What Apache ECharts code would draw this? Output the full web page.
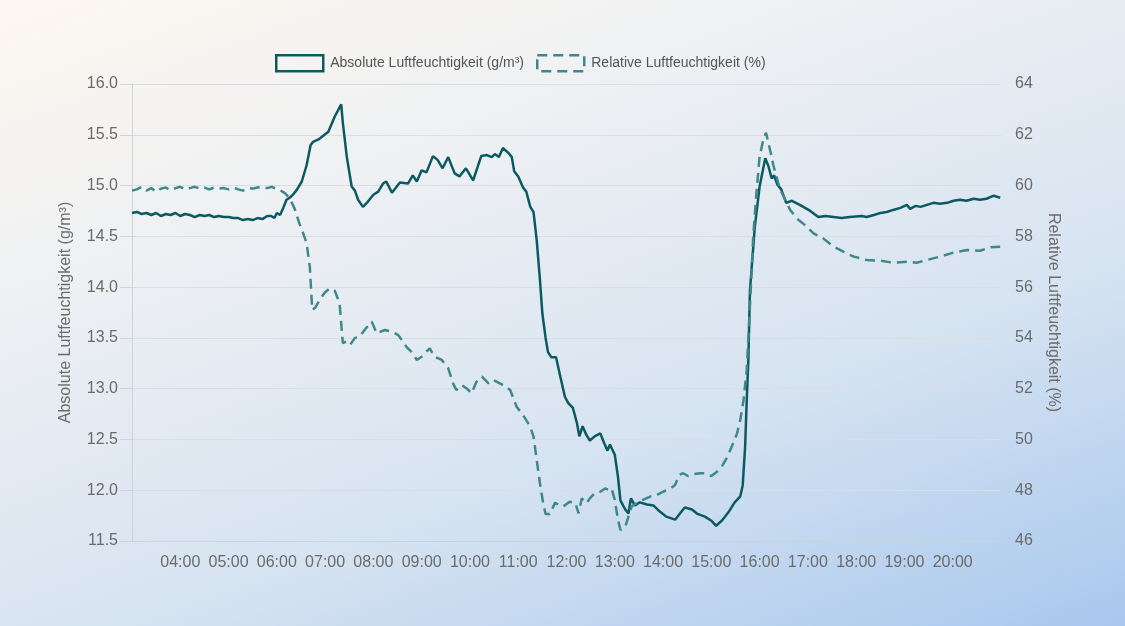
<!DOCTYPE html>
<html><head><meta charset="utf-8">
<script src="https://cdn.jsdelivr.net/npm/echarts/dist/echarts.min.js"></script>
<style>
html,body{margin:0;padding:0;width:1125px;height:626px;overflow:hidden;
background:linear-gradient(160deg,#fdf8f0 0%,#eef0f3 30%,#d6e3f1 65%,#a9c8ee 100%);}
#c{width:1125px;height:626px;}
</style>
</head><body><div id="c"></div>
<script>
const absTimes = ['03:00','03:06','03:12','03:18','03:24','03:30','03:36','03:42','03:48','03:54','04:00','04:06','04:12','04:18','04:24','04:30','04:36','04:42','04:48','04:54','05:00','05:06','05:12','05:18','05:24','05:30','05:36','05:42','05:48','05:53','05:57','06:00','06:04','06:08','06:12','06:16','06:20','06:25','06:31','06:37','06:42','06:45','06:53','07:04','07:12','07:18','07:20','07:22','07:27','07:33','07:37','07:41','07:47','07:53','08:00','08:06','08:12','08:16','08:23','08:33','08:43','08:49','08:54','09:00','09:06','09:14','09:20','09:26','09:33','09:41','09:47','09:55','10:04','10:14','10:21','10:27','10:31','10:36','10:41','10:48','10:52','10:55','11:00','11:06','11:10','11:15','11:19','11:23','11:27','11:30','11:34','11:37','11:41','11:47','11:52','11:58','12:02','12:08','12:13','12:16','12:20','12:25','12:29','12:35','12:42','12:47','12:51','12:54','13:00','13:04','13:07','13:13','13:17','13:20','13:25','13:31','13:40','13:48','13:56','14:04','14:15','14:21','14:27','14:36','14:42','14:52','15:00','15:06','15:13','15:21','15:29','15:36','15:39','15:42','15:44','15:46','15:48','15:54','16:00','16:07','16:11','16:15','16:18','16:22','16:27','16:33','16:40','16:50','17:03','17:13','17:22','17:32','17:42','17:52','18:07','18:13','18:22','18:30','18:38','18:46','18:55','19:03','19:07','19:14','19:20','19:28','19:36','19:44','19:53','20:01','20:09','20:17','20:26','20:34','20:42','20:51','20:59'];
const absValues = [14.73,14.74,14.72,14.73,14.71,14.73,14.70,14.72,14.71,14.73,14.70,14.72,14.71,14.69,14.71,14.70,14.71,14.69,14.70,14.69,14.69,14.68,14.68,14.66,14.67,14.66,14.68,14.67,14.70,14.70,14.68,14.73,14.71,14.78,14.86,14.88,14.91,14.96,15.04,15.20,15.40,15.43,15.46,15.53,15.68,15.77,15.80,15.62,15.28,14.99,14.95,14.86,14.79,14.84,14.91,14.94,15.02,15.04,14.93,15.03,15.02,15.10,15.04,15.15,15.13,15.29,15.25,15.17,15.28,15.12,15.09,15.17,15.05,15.29,15.30,15.28,15.31,15.28,15.37,15.32,15.28,15.14,15.09,14.98,14.94,14.79,14.74,14.46,14.07,13.74,13.50,13.36,13.31,13.31,13.13,12.92,12.86,12.81,12.66,12.53,12.63,12.54,12.49,12.53,12.56,12.46,12.39,12.45,12.35,12.13,11.90,11.81,11.77,11.92,11.85,11.88,11.86,11.85,11.79,11.74,11.71,11.77,11.83,11.81,11.77,11.74,11.70,11.65,11.70,11.78,11.88,11.94,12.05,12.43,12.89,13.28,13.97,14.59,14.99,15.27,15.19,15.07,15.10,15.01,14.96,14.83,14.85,14.81,14.75,14.69,14.70,14.69,14.68,14.69,14.70,14.69,14.71,14.73,14.74,14.76,14.78,14.81,14.77,14.80,14.79,14.81,14.83,14.82,14.83,14.85,14.86,14.85,14.87,14.86,14.87,14.90,14.88];

const relTimes = ['03:00','03:06','03:12','03:18','03:24','03:30','03:36','03:42','03:48','03:54','04:00','04:06','04:12','04:18','04:24','04:30','04:36','04:42','04:48','04:54','05:00','05:06','05:12','05:18','05:24','05:30','05:36','05:42','05:48','05:54','06:00','06:04','06:10','06:16','06:22','06:28','06:33','06:37','06:41','06:44','06:48','06:53','07:00','07:06','07:12','07:18','07:22','07:26','07:31','07:37','07:43','07:49','07:58','08:04','08:14','08:23','08:31','08:41','08:47','08:54','09:00','09:10','09:16','09:25','09:33','09:39','09:43','09:50','09:56','10:02','10:08','10:15','10:23','10:29','10:39','10:50','10:58','11:06','11:15','11:19','11:23','11:27','11:31','11:34','11:39','11:46','11:52','11:56','12:04','12:11','12:15','12:19','12:25','12:29','12:35','12:42','12:48','12:53','12:56','13:00','13:04','13:07','13:13','13:17','13:21','13:27','13:35','13:44','13:52','14:00','14:09','14:15','14:20','14:25','14:31','14:38','14:46','14:52','15:00','15:07','15:13','15:19','15:25','15:32','15:36','15:40','15:44','15:49','15:52','15:56','16:00','16:05','16:08','16:11','16:14','16:17','16:21','16:25','16:32','16:38','16:46','16:56','17:07','17:19','17:32','17:44','17:57','18:13','18:30','18:46','19:03','19:15','19:28','19:44','20:01','20:18','20:34','20:47','20:59'];
const relValues = [59.80,59.85,59.95,59.80,59.90,59.75,59.88,59.92,59.82,59.90,59.95,59.85,59.90,59.95,59.88,59.92,59.85,59.92,59.88,59.90,59.85,59.92,59.85,59.80,59.90,59.88,59.92,59.95,59.90,59.95,59.85,59.82,59.70,59.50,59.10,58.51,58.10,57.73,56.80,55.10,55.20,55.49,55.80,55.95,55.86,55.36,53.79,53.85,53.72,54.00,54.05,54.31,54.64,54.18,54.31,54.25,54.11,53.65,53.46,53.13,53.26,53.59,53.26,53.13,52.80,52.21,51.95,52.14,52.01,51.82,52.27,52.47,52.21,52.34,52.18,51.95,51.29,50.96,50.50,50.11,49.19,48.27,47.49,47.06,47.06,47.51,47.38,47.36,47.55,47.49,47.09,47.68,47.49,47.68,47.88,47.94,48.07,48.01,48.07,47.62,46.83,46.43,46.56,46.96,47.36,47.49,47.62,47.75,47.81,47.94,48.07,48.21,48.60,48.67,48.56,48.64,48.67,48.67,48.56,48.73,48.93,49.26,49.69,50.24,50.77,51.55,52.74,55.89,57.99,59.69,61.14,61.86,62.08,61.66,61.27,60.81,60.35,59.89,59.43,59.04,58.71,58.45,58.12,57.92,57.59,57.40,57.20,57.07,57.04,56.96,57.00,56.96,57.07,57.20,57.36,57.46,57.43,57.57,57.59];

const hourLabels = ['04:00','05:00','06:00','07:00','08:00','09:00','10:00','11:00','12:00','13:00','14:00','15:00','16:00','17:00','18:00','19:00','20:00'];

const seriesNames = ['Absolute Luftfeuchtigkeit (g/m³)','Relative Luftfeuchtigkeit (%)'];

function toMin(t){const p=t.split(':');return (+p[0])*60+(+p[1]);}
const absData = absTimes.map((t,i)=>[toMin(t),absValues[i]]);
const relData = relTimes.map((t,i)=>[toMin(t),relValues[i]]);

const solidColor = '#0b5a61';
const dashColor = '#3f878c';
const txt = '#6b6b6b';
const FONT = 'Liberation Sans, Arial, sans-serif';

const chart = echarts.init(document.getElementById('c'), null, {renderer:'canvas'});
chart.setOption({
  backgroundColor:'transparent',
  animation:false,
  textStyle:{fontFamily:FONT},
  legend:{
    left:270, top:49, itemWidth:47, itemHeight:16, itemGap:12,
    textStyle:{fontSize:14,color:'#555',fontFamily:FONT,padding:[0,0,0,2]},
    data:[
      {name:seriesNames[0], icon:'rect', itemStyle:{color:'rgba(0,0,0,0)',borderColor:solidColor,borderWidth:2.5,borderType:'solid'}},
      {name:seriesNames[1], icon:'rect', itemStyle:{color:'rgba(0,0,0,0)',borderColor:dashColor,borderWidth:2.5,borderType:[10,6]}}
    ]
  },
  grid:{left:132, right:124, top:84, bottom:85, containLabel:false},
  xAxis:{
    type:'value', min:180, max:1260, interval:60,
    axisLine:{show:true,lineStyle:{color:'#c9d3de',width:1}},
    axisTick:{show:false},
    splitLine:{show:false},
    axisLabel:{
      fontSize:16, color:txt, margin:14, fontFamily:FONT,
      formatter:function(v){const idx=v/60-4; return (idx>=0 && idx<hourLabels.length)?hourLabels[idx]:'';}
    }
  },
  yAxis:[
    {
      type:'value', min:11.5, max:16, interval:0.5, position:'left',
      name:seriesNames[0], nameLocation:'middle', nameGap:58,
      nameTextStyle:{fontSize:16,color:txt,fontFamily:FONT},
      axisLine:{show:true,lineStyle:{color:'#cfd4da'}},
      axisTick:{show:true,length:12,lineStyle:{color:'#cfd4da'}},
      splitLine:{show:true,lineStyle:{color:'#d9dee4',width:1}},
      axisLabel:{fontSize:16,color:txt,margin:14,fontFamily:FONT,formatter:v=>v.toFixed(1)}
    },
    {
      type:'value', min:46, max:64, interval:2, position:'right',
      name:seriesNames[1], nameLocation:'middle', nameGap:44, nameRotate:-90,
      nameTextStyle:{fontSize:16,color:txt,fontFamily:FONT},
      axisLine:{show:false}, axisTick:{show:false}, splitLine:{show:false},
      axisLabel:{fontSize:16,color:txt,margin:14,fontFamily:FONT}
    }
  ],
  series:[
    {name:seriesNames[0], type:'line', yAxisIndex:0, data:absData, showSymbol:false, symbol:'none',
     smooth:false, lineStyle:{color:solidColor,width:2.5}, itemStyle:{color:solidColor}},
    {name:seriesNames[1], type:'line', yAxisIndex:1, data:relData, showSymbol:false, symbol:'none',
     smooth:false, lineStyle:{color:dashColor,width:2.5,type:[10,6]}, itemStyle:{color:dashColor}}
  ]
});
</script></body></html>
